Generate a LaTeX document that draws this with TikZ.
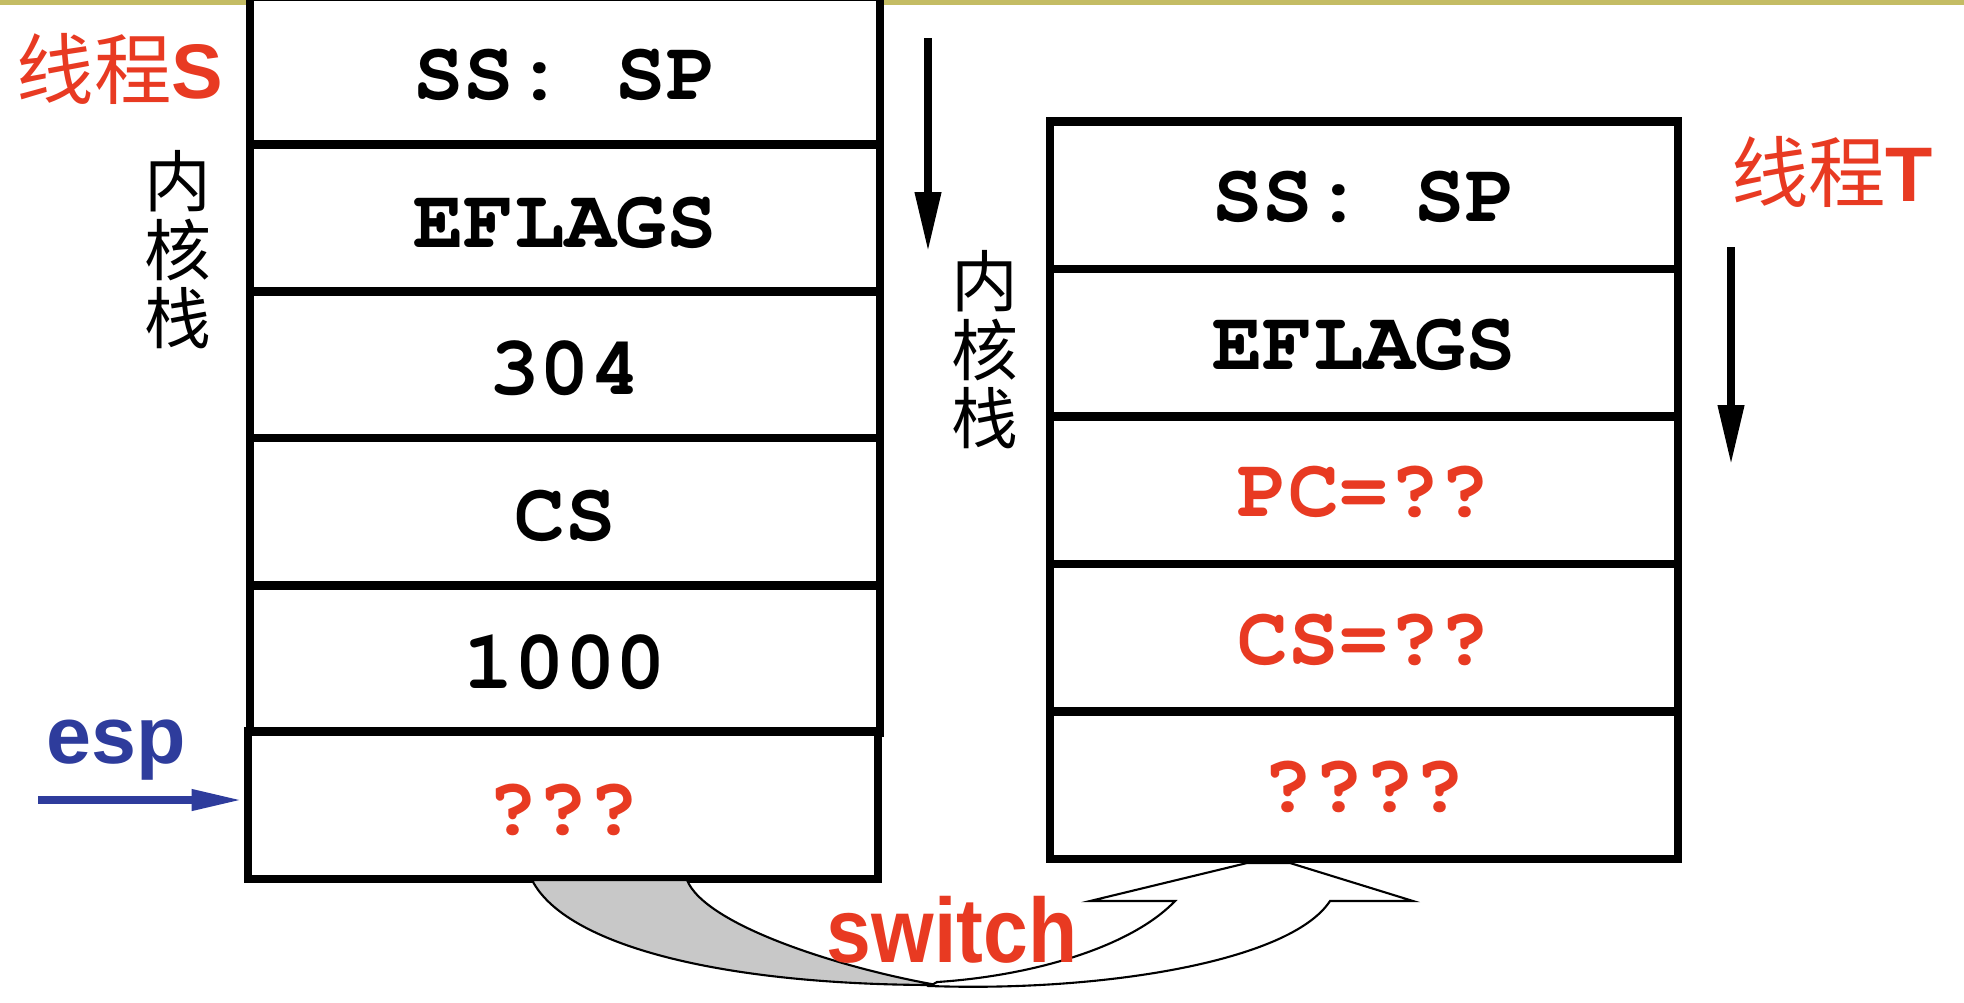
\documentclass[tikz,border=0pt]{standalone}
\usepackage[T1]{fontenc}
\usepackage{fontspec}
\usetikzlibrary{arrows.meta}
\setmainfont{Liberation Sans}
\newfontfamily\cjk{Noto Sans CJK SC}
\newcommand\courb{\fontencoding{T1}\fontfamily{pcr}\fontseries{b}\fontshape{n}\selectfont}
\newfontfamily\condsans[FakeStretch=0.88]{Liberation Sans}
\definecolor{tred}{RGB}{232,58,34}
\definecolor{tblue}{RGB}{46,60,156}
\definecolor{topline}{RGB}{196,188,100}
\definecolor{arrowgray}{RGB}{200,200,200}
\begin{document}
\begin{tikzpicture}[x=0.01cm,y=-0.01cm,
  cell/.style={draw=black, line width=2.3pt, fill=white, minimum width=6.29cm,
    minimum height=1.47cm, inner sep=0pt, text height=16.5pt, text depth=0pt,
    font={\courb\fontsize{24pt}{24pt}\selectfont}},
  rcell/.style={cell, minimum width=6.28cm, minimum height=1.475cm, text height=15.1pt},
  redtxt/.style={text=tred},
  title/.style={text=tred, font={\fontsize{22pt}{22pt}\selectfont}},
  kstack/.style={align=center, inner sep=0pt, font={\cjk\fontsize{19pt}{19.5pt}\selectfont}},
  downarrow/.style={line width=2.3pt, -{Triangle[width=7pt,length=17pt]}},
  swshape/.style={draw=black, line width=0.6pt}
]
\useasboundingbox (0,0) rectangle (1964,1002);
\fill[white] (0,0) rectangle (1964,1002);
\fill[topline] (0,0) rectangle (1964,5);

% left stack (thread S)
\node[cell] (s1) at (565,70.5) {SS: SP};
\node[cell] (s2) at (565,218) {EFLAGS};
\node[cell] (s3) at (565,365) {304};
\node[cell] (s4) at (565,511.5) {CS};
\node[cell] (s5) at (565,659) {1000};
\node[cell, redtxt] (s6) at (563,805) {???};

% right stack (thread T)
\node[rcell] (t1) at (1364,195.25) {SS: SP};
\node[rcell] (t2) at (1364,342.75) {EFLAGS};
\node[rcell, redtxt] (t3) at (1364,490.25) {PC=??};
\node[rcell, redtxt] (t4) at (1364,637.75) {CS=??};
\node[rcell, redtxt] (t5) at (1364,785.25) {????};

% titles
\node[title] (ls) at (120,69) {{\cjk 线程}\textbf{S}};
\node[title] (lt) at (1832,172) {{\cjk 线程}\textbf{T}};

% kernel stack labels
\node[kstack] (ks) at (178,250) {内\\核\\栈};
\node[kstack] (kt) at (985,350) {内\\核\\栈};

% growth arrows
\coordinate (a1) at (928,38);
\coordinate (a2) at (928,252);
\coordinate (b1) at (1731,247);
\coordinate (b2) at (1731,465);
\draw[downarrow] (a1) -- (a2);
\draw[downarrow] (b1) -- (b2);

% esp pointer
\node[text=tblue, font={\bfseries\fontsize{23pt}{23pt}\selectfont}, anchor=base, inner sep=0pt] (esp) at (116,763) {esp};
\coordinate (e0) at (38,800);
\draw[tblue, line width=2.5pt, -{Triangle[width=5.5pt,length=15pt]}] (e0) -- (e0 -| s6.west);

% switch arrow
\draw[swshape, fill=arrowgray] (532,880) .. controls (565,945) and (720,985) .. (937,985)
   .. controls (840,968) and (705,925) .. (687,880) -- cycle;
\draw[swshape, fill=white] (930,986) .. controls (1100,992) and (1290,962) .. (1330,901)
   -- (1413,901) -- (1290,863) -- (1247,863) -- (1090,901) -- (1175,901)
   .. controls (1130,948) and (1030,976) .. (937,982) -- cycle;
\node[text=tred, font={\condsans\bfseries\fontsize{26pt}{26pt}\selectfont}, anchor=base, inner sep=0pt] (sw) at (952,962) {switch};
\end{tikzpicture}
\end{document}
